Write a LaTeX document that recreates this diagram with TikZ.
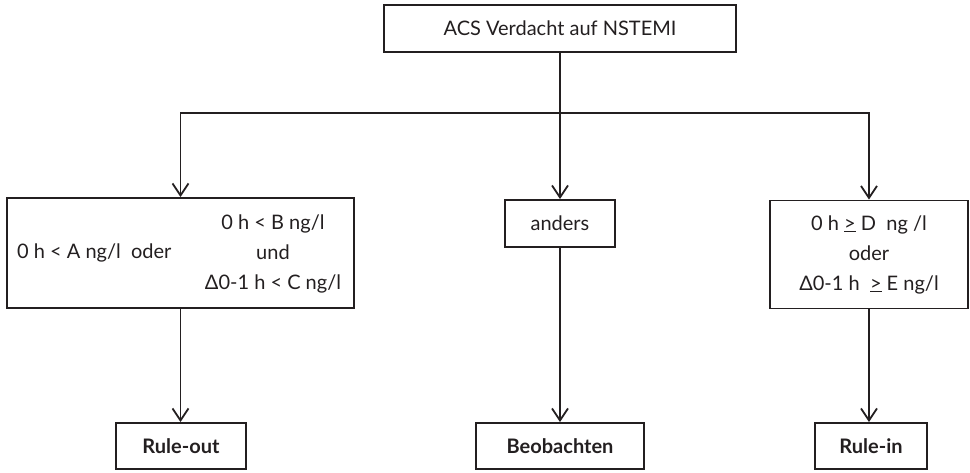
\documentclass[tikz,border=0pt]{standalone}
\usepackage{fontspec}
\setmainfont{Lato}
\usetikzlibrary{arrows.meta}
\definecolor{ink}{HTML}{231F20}
\tikzset{
  box/.style={draw=ink, line width=1.8pt, inner sep=0pt, text=ink,
    font=\fontsize{20}{30}\selectfont, align=center},
  txt/.style={inner sep=0pt, text=ink, font=\fontsize{20}{30}\selectfont, align=center},
  conn/.style={draw=ink, line width=1.8pt},
  arr/.style={conn, -{Straight Barb[length=12pt,width=16pt,line width=1.8pt]}}
}
\newcommand{\geqline}{\underline{>}}
\begin{document}
\begin{tikzpicture}[x=1pt,y=-1pt]
\useasboundingbox (0,0) rectangle (970,472);

% entry point
\node[box, minimum width=352pt, minimum height=47pt] (top) at (560,28.5) {ACS Verdacht auf NSTEMI};

% first-level decision boxes
\node[box, minimum width=347pt, minimum height=110pt] (left) at (180.5,253) {};
\node[txt, anchor=west] (lefta) at (17,253) {0 h < A ng/l\ \ oder};
\node[txt] (leftb) at (273,254) {0 h < B ng/l\\und\\Δ0-1 h < C ng/l};

\node[box, minimum width=110pt, minimum height=47pt] (mid) at (560,223.5) {anders};

\node[box, minimum width=198pt, minimum height=108pt] (right) at (869,254.5)
  {0 h \geqline\ D\ \ ng /l\\oder\\Δ0-1 h\ \ \geqline\ E ng/l};

% outcomes
\node[box, minimum width=130pt, minimum height=46pt, font=\fontsize{20}{30}\selectfont\bfseries] (ruleout) at (181,446) {Rule-out};
\node[box, minimum width=168pt, minimum height=46pt, font=\fontsize{20}{30}\selectfont\bfseries] (beob) at (560,446) {Beobachten};
\node[box, minimum width=112pt, minimum height=46pt, font=\fontsize{20}{30}\selectfont\bfseries] (rulein) at (871,446) {Rule-in};

% connectors
\coordinate (hub) at (560,113);
\draw[conn] (top.south) -- (hub);
\draw[arr] (hub) -| (left.north);
\draw[arr] (hub) -- (mid.north);
\draw[arr] (hub) -| (right.north);
\draw[arr] (left.south) -- (left.south |- ruleout.north);
\draw[arr] (mid.south) -- (beob.north);
\draw[arr] (right.south) -- (right.south |- rulein.north);
\end{tikzpicture}
\end{document}
